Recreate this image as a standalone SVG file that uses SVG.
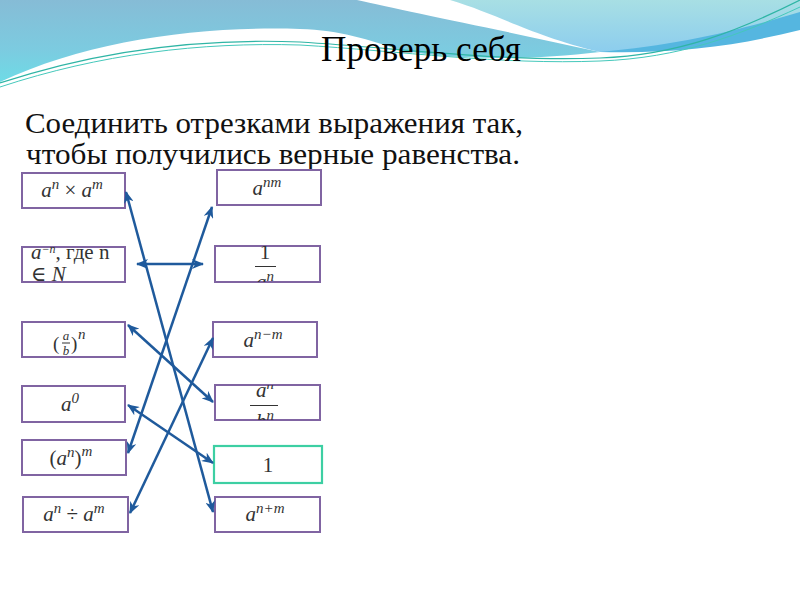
<svg xmlns="http://www.w3.org/2000/svg" width="800" height="600" viewBox="0 0 800 600">
<style>
.box{fill:#ffffff;stroke:#8064a2;stroke-width:2}
.box1{fill:#ffffff;stroke:#3dcfa3;stroke-width:2.2}
.m{font-style:italic;font-size:21px;fill:#333333}
.up{font-style:normal}
.sup{font-size:15px}
.conn line{stroke:#1f5a9c;stroke-width:2.5;marker-start:url(#ah);marker-end:url(#ah)}
.bar{stroke:#333333;stroke-width:1}
</style>
<defs>
<marker id="ah" viewBox="0 0 12 10" refX="11" refY="5" markerWidth="12" markerHeight="10" markerUnits="userSpaceOnUse" orient="auto-start-reverse">
<path d="M0,0 L12,5 L0,10 L3.5,5 Z" fill="#1f5a9c"/>
</marker>
<linearGradient id="gl" x1="0" y1="0" x2="0" y2="1">
<stop offset="0" stop-color="#86bcd6"/>
<stop offset="0.6" stop-color="#7ccbe0"/>
<stop offset="1" stop-color="#6edbe6"/>
</linearGradient>
<linearGradient id="gr" x1="0" y1="0" x2="0" y2="1">
<stop offset="0" stop-color="#a8dfe4"/>
<stop offset="1" stop-color="#8ccdee"/>
</linearGradient>
<clipPath id="c2"><rect x="215" y="246" width="105" height="36"/></clipPath>
<clipPath id="c4"><rect x="215" y="385" width="105" height="35"/></clipPath>
</defs>
<rect width="800" height="600" fill="#ffffff"/>
<g id="background">
<path d="M0,0 H357 C400,10 510,32 600,52 C520,62 440,58 400,50 C370,40 340,30 300,29 C200,26 90,40 0,82 Z" fill="url(#gl)"/>
<path d="M450,0 H800 V25 C740,40 680,52 600,52 C530,35 500,15 450,0 Z" fill="url(#gr)"/>
<path d="M600,52 C680,45 740,30 800,12 V30 C740,45 680,54 600,52 Z" fill="#55b6e0"/>
<path d="M0,83 C100,50 200,38 300,42 C400,48 500,62 600,58 C680,55 740,30 800,0" fill="none" stroke="#2fb5a5" stroke-width="1.2"/>
<path d="M0,87 C100,54 200,42 300,45 C400,51 500,65 600,61 C680,58 740,35 800,7" fill="none" stroke="#45c8bb" stroke-width="1"/>
</g>
<g font-family="Liberation Serif, DejaVu Serif, serif">
<text x="321" y="61" font-size="36" fill="#000000" textLength="200" lengthAdjust="spacingAndGlyphs">Проверь себя</text>
<text x="25" y="133" font-size="30" fill="#111111" textLength="498" lengthAdjust="spacingAndGlyphs">Соединить отрезками выражения так,</text>
<text x="26" y="164" font-size="30" fill="#111111" textLength="494" lengthAdjust="spacingAndGlyphs">чтобы получились верные равенства.</text>
<g id="L1"><rect class="box" x="22" y="173" width="103" height="35"/>
<text class="m" x="72" y="197" text-anchor="middle">a<tspan class="sup" dy="-8">n</tspan><tspan class="up" dy="8"> × </tspan>a<tspan class="sup" dy="-8">m</tspan></text></g>
<g id="L2"><rect class="box" x="22" y="247" width="103" height="35"/>
<text class="m" x="31" y="259" font-size="16">a<tspan font-size="12" dy="-6">−n</tspan><tspan class="up" dy="6">, где n</tspan></text>
<text class="m" x="31" y="281" font-size="16"><tspan class="up">∈ </tspan>N</text></g>
<g id="L3"><rect class="box" x="22" y="322" width="103" height="35"/>
<text class="m"><tspan class="up" x="53" y="350" font-size="19">(</tspan><tspan x="66" y="340" font-size="13" text-anchor="middle">a</tspan><tspan x="66" y="355" font-size="13" text-anchor="middle">b</tspan><tspan class="up" x="71" y="350" font-size="19">)</tspan><tspan x="78" y="339" font-size="15">n</tspan></text>
<line class="bar" x1="62" y1="343" x2="70" y2="343"/></g>
<g id="L4"><rect class="box" x="22" y="386" width="103" height="36"/>
<text class="m" x="70" y="411" text-anchor="middle">a<tspan class="sup" dy="-8">0</tspan></text></g>
<g id="L5"><rect class="box" x="22" y="440" width="104" height="35"/>
<text class="m" x="71" y="465" text-anchor="middle"><tspan class="up">(</tspan>a<tspan class="sup" dy="-8">n</tspan><tspan class="up" dy="8">)</tspan><tspan class="sup" dy="-9">m</tspan></text></g>
<g id="L6"><rect class="box" x="23" y="497" width="105" height="35"/>
<text class="m" x="74" y="521" text-anchor="middle">a<tspan class="sup" dy="-8">n</tspan><tspan class="up" dy="8"> ÷ </tspan>a<tspan class="sup" dy="-8">m</tspan></text></g>
<g id="R1"><rect class="box" x="217" y="170" width="104" height="35"/>
<text class="m" x="267" y="195" text-anchor="middle">a<tspan class="sup" dy="-8">nm</tspan></text></g>
<g id="R2"><rect class="box" x="215" y="246" width="105" height="36"/>
<g clip-path="url(#c2)">
<text class="m up" x="265" y="259" font-size="17" text-anchor="middle">1</text>
<line class="bar" x1="255" y1="266.5" x2="276" y2="266.5"/>
<text class="m" x="265" y="289" text-anchor="middle">a<tspan class="sup" dy="-8">n</tspan></text>
</g></g>
<g id="R3"><rect class="box" x="213" y="322" width="104" height="35"/>
<text class="m" x="263" y="347" text-anchor="middle">a<tspan class="sup" dy="-8">n−m</tspan></text></g>
<g id="R4"><rect class="box" x="215" y="385" width="105" height="35"/>
<g clip-path="url(#c4)">
<text class="m" x="265" y="397" text-anchor="middle">a<tspan class="sup" dy="-8">n</tspan></text>
<line class="bar" x1="250" y1="405.5" x2="278" y2="405.5"/>
<text class="m" x="265" y="428" text-anchor="middle">b<tspan class="sup" dy="-8">n</tspan></text>
</g></g>
<g id="R5"><rect class="box1" x="214" y="446" width="108" height="37"/>
<text class="m up" x="268" y="472" font-size="14" text-anchor="middle">1</text></g>
<g id="R6"><rect class="box" x="215" y="497" width="105" height="35"/>
<text class="m" x="265" y="521" text-anchor="middle">a<tspan class="sup" dy="-8">n+m</tspan></text></g>
</g>
<g id="connectors" class="conn">
<line x1="126" y1="192" x2="213" y2="512"/>
<line x1="212" y1="207" x2="128" y2="453"/>
<line x1="137" y1="264" x2="203" y2="264"/>
<line x1="128" y1="325" x2="213" y2="402"/>
<line x1="213" y1="338" x2="130" y2="513"/>
<line x1="128" y1="405" x2="213" y2="463"/>
</g>
</svg>
